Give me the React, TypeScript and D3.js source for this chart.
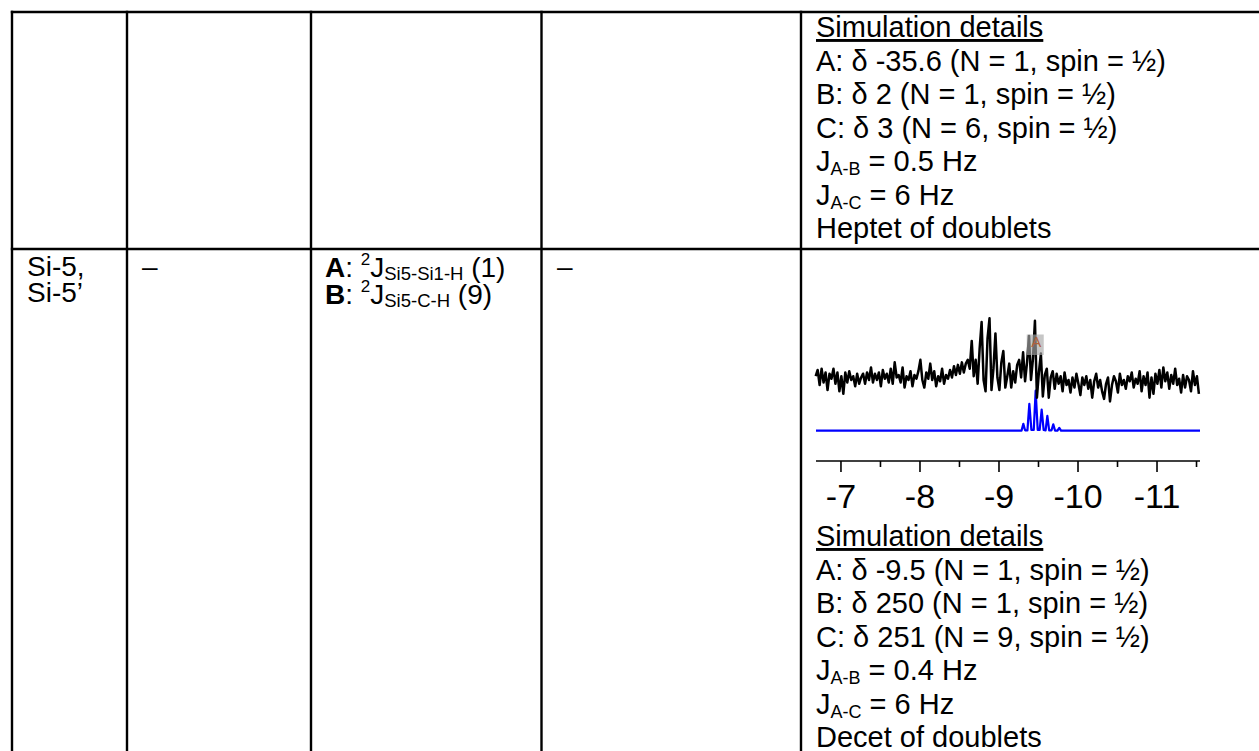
import React from "react";
import * as d3 from "d3";

// 29Si spectrum of Si-5 / Si-5' (measured trace), sampled on a uniform ppm grid
const PPM_START = -6.68;
const PPM_STEP = -0.025;
const measured: number[] = [
  6, 16, -8, 18, -4, 12, -16, 10, 2, 18, -6, 12, -18, 6, -22, 12, -4, 14, 0, 6,
  -10, 10, -6, 4, 10, -6, 12, 0, 20, -4, 10, 0, 12, -10, 16, 2, 10, -4, 18, -6,
  28, 4, 8, -4, 20, -12, 6, 0, 14, -10, 8, 2, 14, 32, 0, -12, 12, 2, 26, 0,
  14, -10, 6, -2, 18, -6, 8, 2, 16, 4, 22, 8, 24, 10, 28, 12,
  26, 32, 18, 62, 6, 32, -6, 50, 92, 0, -18, 66, 98, -16, 18, 74, 4, -16, 28, 46,
  -12, 6, 26, -12, 14, -4, 24, 32, 4, 44, -2, 28, 70, 0, 34, 94, -28, 12, 42, -26,
  8, 18, -28, 4, 14, -14, 10, -6,
  6, -18, 12, -8, 0, -20, 4, -12, 10, -6, -24, 4, -8, 6, -14, 0, -28, -2, 10, -12,
  0, -18, -30, -6, 4, -34, -8, 6, -2, -20, 10, -8, 0, -14, 6, -2, 12, -12, 2, -6,
  14, -18, 6, -8, 12, -28, 4, -22, 10, -6, 16, -12, 20, -2, 12, -14, 8, -6, 18, -8,
  2, -20, 8, -12, 6, 0, -18, 14, -8, 6, -22,
];

// Simulated decet of doublets (ppm, intensity)
const simulated: [number, number][] = [
  [-6.684, 0], [-9.285, 0],
  [-9.308, 17], [-9.33, 1],
  [-9.36, 1], [-9.384, 67], [-9.41, 2],
  [-9.44, 2], [-9.464, 100], [-9.49, 2],
  [-9.515, 2], [-9.54, 53], [-9.565, 2],
  [-9.59, 1], [-9.612, 37], [-9.635, 1],
  [-9.665, 1], [-9.687, 16], [-9.71, 0],
  [-9.74, 0], [-9.763, 7], [-9.785, 0],
  [-11.544, 0],
];

const majorTicks = [-7, -8, -9, -10, -11];
const minorTicks = [-7.5, -8.5, -9.5, -10.5, -11.5];
const peakLabel = { ppm: -9.465, text: "A" };

// Table contents
const rowLabel = ["Si-5,", "Si-5\u2019"];
const couplingLines = [
  { tag: "A", sub: "Si5-Si1-H", count: "(1)" },
  { tag: "B", sub: "Si5-C-H", count: "(9)" },
];
type Sim = { a: string; b: string; c: string; jab: string; jac: string; pattern: string };
const heptetSim: Sim = {
  a: "A: \u03b4 -35.6 (N = 1, spin = \u00bd)",
  b: "B: \u03b4 2 (N = 1, spin = \u00bd)",
  c: "C: \u03b4 3 (N = 6, spin = \u00bd)",
  jab: " = 0.5 Hz",
  jac: " = 6 Hz",
  pattern: "Heptet of doublets",
};
const decetSim: Sim = {
  a: "A: \u03b4 -9.5 (N = 1, spin = \u00bd)",
  b: "B: \u03b4 250 (N = 1, spin = \u00bd)",
  c: "C: \u03b4 251 (N = 9, spin = \u00bd)",
  jab: " = 0.4 Hz",
  jac: " = 6 Hz",
  pattern: "Decet of doublets",
};

const W = 1259;
const H = 751;
const FONT = "'Liberation Sans', Arial, Helvetica, sans-serif";
const colX = [12, 127, 311, 541.5, 801];
const rowY = [12, 249];
const LINE_W = 2.4;

function SimBlock({ sim, y0 }: { sim: Sim; y0: number }) {
  const x = 816;
  const lh = 33.5;
  const fs = 29;
  return (
    <g fontFamily={FONT} fontSize={fs} fill="#000">
      <text x={x} y={y0} style={{ textDecoration: "underline" }}>Simulation details</text>
      <text x={x} y={y0 + lh}>{sim.a}</text>
      <text x={x} y={y0 + 2 * lh}>{sim.b}</text>
      <text x={x} y={y0 + 3 * lh}>{sim.c}</text>
      <text x={x} y={y0 + 4 * lh}>
        <tspan>J</tspan>
        <tspan fontSize={18} dy={4}>A-B</tspan>
        <tspan dy={-4}>{sim.jab}</tspan>
      </text>
      <text x={x} y={y0 + 5 * lh}>
        <tspan>J</tspan>
        <tspan fontSize={18} dy={4}>A-C</tspan>
        <tspan dy={-4}>{sim.jac}</tspan>
      </text>
      <text x={x} y={y0 + 6 * lh}>{sim.pattern}</text>
    </g>
  );
}

function Spectrum() {
  const x = d3.scaleLinear().domain([-6.684, -11.544]).range([816, 1200]);
  const yMeas = d3.scaleLinear().domain([0, 100]).range([380, 317]);
  const ySim = d3.scaleLinear().domain([0, 100]).range([430.7, 390.7]);
  const axisY = 461;

  const measPts: [number, number][] = measured
    .map((v, i) => [PPM_START + i * PPM_STEP, v] as [number, number])
    .filter(([p]) => p >= -11.56);
  const measLine = d3
    .line<[number, number]>()
    .x((d) => Math.min(x(d[0]), 1201))
    .y((d) => yMeas(d[1]));
  const simLine = d3
    .line<[number, number]>()
    .x((d) => x(d[0]))
    .y((d) => ySim(d[1]));

  const lx = x(peakLabel.ppm);

  return (
    <g>
      <path d={simLine(simulated) || ""} fill="none" stroke="#0000ff" strokeWidth={2.2} strokeLinejoin="round" />
      <path d={measLine(measPts) || ""} fill="none" stroke="#000" strokeWidth={2.5} strokeLinejoin="round" />
      <rect x={lx - 9} y={334.5} width={17} height={20.5} fill="#a8a8a8" opacity={0.65} />
      <text x={lx + 0.5} y={347} textAnchor="middle" fontFamily={FONT} fontSize={15} fill="#b0603a">
        {peakLabel.text}
      </text>
      <line x1={816} x2={1200} y1={axisY} y2={axisY} stroke="#000" strokeWidth={1.6} />
      {majorTicks.map((t) => (
        <line key={"M" + t} x1={x(t)} x2={x(t)} y1={axisY} y2={axisY + 11} stroke="#000" strokeWidth={1.6} />
      ))}
      {minorTicks.map((t) => (
        <line key={"m" + t} x1={x(t)} x2={x(t)} y1={axisY} y2={axisY + 6} stroke="#000" strokeWidth={1.6} />
      ))}
      {majorTicks.map((t) => (
        <text key={"l" + t} x={x(t)} y={508} textAnchor="middle" fontFamily={FONT} fontSize={34} fill="#000">
          {String(t)}
        </text>
      ))}
    </g>
  );
}

export default function App() {
  return (
    <svg width={W} height={H} viewBox={`0 0 ${W} ${H}`} style={{ position: "absolute", left: 0, top: 0, background: "#fff" }}>
      <rect x={0} y={0} width={W} height={H} fill="#fff" />
      {/* table rules */}
      {colX.map((cx) => (
        <line key={"v" + cx} x1={cx} x2={cx} y1={rowY[0] - LINE_W / 2} y2={H} stroke="#000" strokeWidth={LINE_W} />
      ))}
      {rowY.map((ry) => (
        <line key={"h" + ry} x1={colX[0] - LINE_W / 2} x2={W} y1={ry} y2={ry} stroke="#000" strokeWidth={LINE_W} />
      ))}

      <SimBlock sim={heptetSim} y0={37} />

      {/* second row */}
      <g fontFamily={FONT} fontSize={28} fill="#000">
        <text x={27} y={276}>{rowLabel[0]}</text>
        <text x={27} y={302}>{rowLabel[1]}</text>
        <text x={142} y={276}>{"\u2013"}</text>
        <text x={557} y={276}>{"\u2013"}</text>
        {couplingLines.map((c, i) => (
          <text key={c.tag} x={325} y={277 + i * 26.5}>
            <tspan fontWeight="bold">{c.tag}</tspan>
            <tspan>{": "}</tspan>
            <tspan fontSize={17} dy={-12}>2</tspan>
            <tspan dy={12}>J</tspan>
            <tspan fontSize={18.5} dy={3}>{c.sub}</tspan>
            <tspan dy={-3}>{" " + c.count}</tspan>
          </text>
        ))}
      </g>

      <Spectrum />
      <SimBlock sim={decetSim} y0={546} />
    </svg>
  );
}
